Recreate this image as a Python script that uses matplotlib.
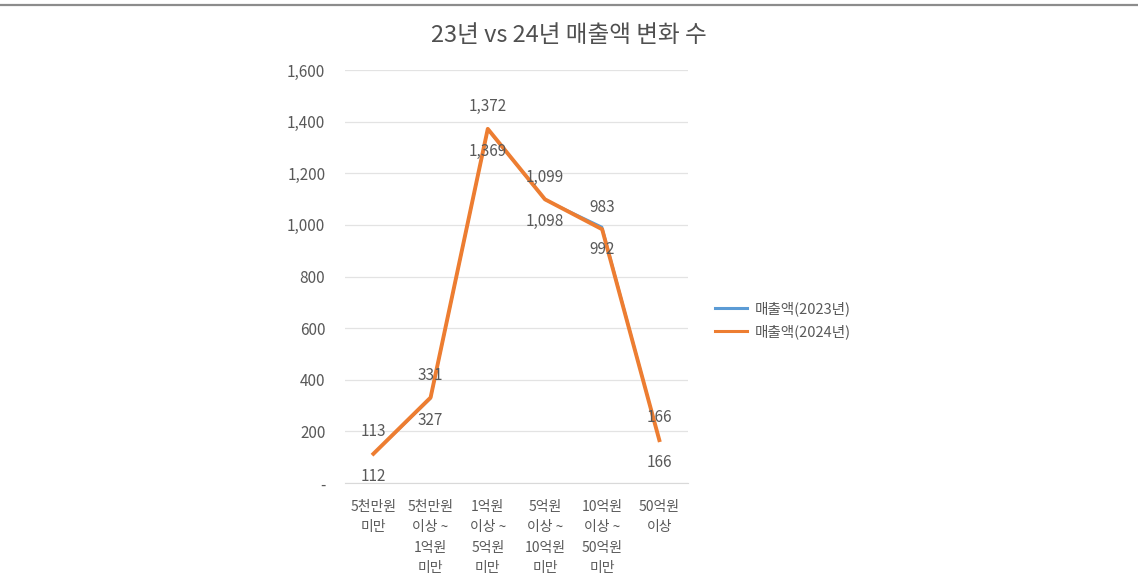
import matplotlib
matplotlib.use("Agg")
import matplotlib.pyplot as plt
from matplotlib.lines import Line2D
from matplotlib.ticker import FuncFormatter

plt.rcParams['font.family'] = ['Noto Sans CJK KR', 'DejaVu Sans']

title = "23년 vs 24년 매출액 변화 수"
categories = ["5천만원\n미만", "5천만원\n이상 ~\n1억원\n미만", "1억원\n이상 ~\n5억원\n미만",
              "5억원\n이상 ~\n10억원\n미만", "10억원\n이상 ~\n50억원\n미만", "50억원\n이상"]
series_names = ["매출액(2023년)", "매출액(2024년)"]
sales_2023 = [112, 327, 1369, 1098, 992, 166]
sales_2024 = [113, 331, 1372, 1099, 983, 166]
yticks = [0, 200, 400, 600, 800, 1000, 1200, 1400, 1600]

blue = "#5B9BD5"
orange = "#ED7D31"
txt = "#595959"

fig = plt.figure(figsize=(11.38, 5.85), dpi=100)
ax = fig.add_axes([0.303, 0.1744, 0.3015, 0.7059])

x = list(range(len(categories)))
ax.plot(x, sales_2023, color=blue, lw=1.6, solid_joinstyle='round', zorder=3)
ax.plot(x, sales_2024, color=orange, lw=2.8, solid_joinstyle='round', zorder=4)

for xi, v in zip(x, sales_2024):
    ax.annotate(f"{v:,}", (xi, v), xytext=(0, 16), textcoords='offset points',
                ha='center', va='center', fontsize=11, color=txt, zorder=5)
for xi, v in zip(x, sales_2023):
    ax.annotate(f"{v:,}", (xi, v), xytext=(0, -16), textcoords='offset points',
                ha='center', va='center', fontsize=11, color=txt, zorder=5)

ax.set_xlim(-0.5, len(categories) - 0.5)
ax.set_ylim(0, 1600)
ax.set_yticks(yticks)
ax.yaxis.set_major_formatter(FuncFormatter(lambda v, p: "-" if v == 0 else f"{int(v):,}"))
ax.set_xticks(x)
ax.set_xticklabels(categories, fontsize=10, color=txt, linespacing=1.6, va='top')
ax.tick_params(axis='y', labelsize=11, labelcolor=txt, length=0, pad=14)
ax.tick_params(axis='x', length=0, pad=12)
ax.grid(axis='y', color='#E3E3E3', lw=0.9)
ax.set_axisbelow(True)
for s in ['top', 'right', 'left']:
    ax.spines[s].set_visible(False)
ax.spines['bottom'].set_color('#D9D9D9')

fig.text(0.5, 0.94, title, ha='center', va='center', fontsize=17, color='#505050')

handles = [Line2D([0], [0], color=blue, lw=2.2), Line2D([0], [0], color=orange, lw=2.2)]
fig.legend(handles, series_names, loc='center left', bbox_to_anchor=(0.617, 0.452),
           frameon=False, fontsize=10.5, labelcolor=txt, handlelength=2.2, handletextpad=0.5,
           labelspacing=0.55)

fig.add_artist(Line2D([0, 1], [0.992, 0.992], color='#8C8C8C', lw=1.6, transform=fig.transFigure))

fig.savefig("out.png", dpi=100, facecolor='white')
